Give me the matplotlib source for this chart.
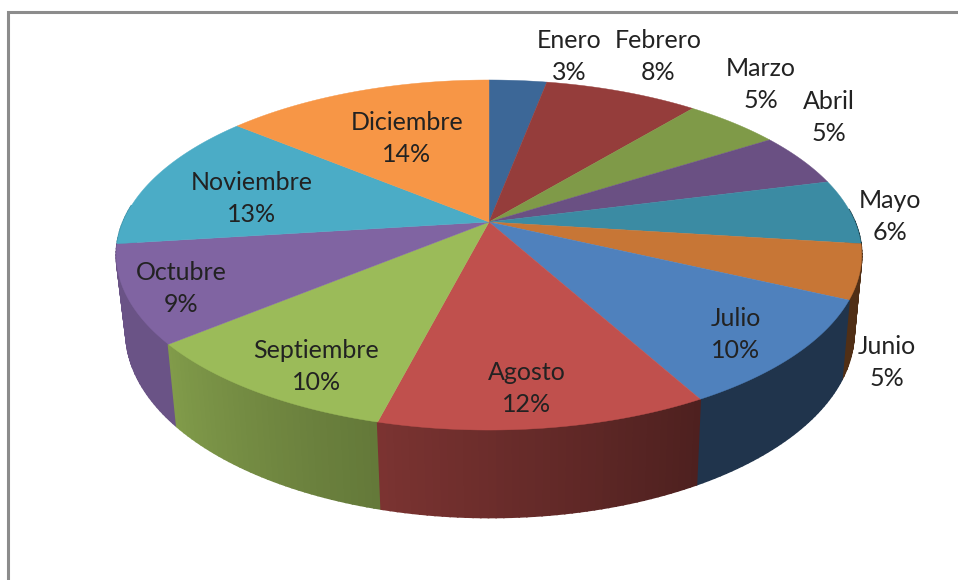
import numpy as np
import matplotlib
matplotlib.use("Agg")
import matplotlib.pyplot as plt
from matplotlib.colors import to_rgb

months = ["Enero", "Febrero", "Marzo", "Abril", "Mayo", "Junio", "Julio",
          "Agosto", "Septiembre", "Octubre", "Noviembre", "Diciembre"]
percent = [3, 8, 5, 5, 6, 5, 10, 12, 10, 9, 13, 14]
colors = ["#3c6797", "#953d3b", "#7f9a48", "#6a5083", "#3b8ba3", "#c77636",
          "#4f81bd", "#c0504d", "#9bbb59", "#8064a2", "#4bacc6", "#f79646"]
label_x = [569.5, 658.5, 761, 828.5, 890, 886.5, 736, 527, 316.5, 181, 251.5, 407]
label_y = [56.5, 56.5, 84.5, 117.5, 216.5, 362.5, 334.5, 388.5, 366.5, 288.5, 198.5, 138.5]
# side shading, clockwise degrees from the top
shade_angle = [90, 115, 151, 194, 230, 270]
shade_value = [0.40, 0.40, 0.40, 0.64, 0.83, 0.83]

plt.rcParams["font.family"] = ["Lato", "DejaVu Sans"]

# pie geometry in pixels
cx, cy = 489, 222
R, H, k = 366, 168.8, 0.1886


def top(deg):
    a = np.radians(deg)
    u, v = np.sin(a), np.cos(a)
    s = 1 / (1 + k * v)
    return cx + R * u * s, cy - H * v * s


def bottom(deg):
    x, y = top(deg)
    return cx + 1 + (x - cx) * 0.977, y + 75 + 0.06 * (y - cy)


fig = plt.figure(figsize=(9.58, 5.8), dpi=100)
ax = fig.add_axes([0, 0, 1, 1])
ax.set_xlim(0, 958)
ax.set_ylim(580, 0)
ax.axis("off")

# frame, only left and top show
ax.plot([8.5, 8.5, 958], [580, 12, 12], color="#8c8c8c", lw=2.2, solid_joinstyle="miter")

edges = np.concatenate([[0], np.cumsum(percent)]) * 3.6

# side wall strips, back to front so the front hides the rest
strips = []
for i in range(len(percent)):
    a = np.arange(edges[i], edges[i + 1], 1.0)
    for d in a:
        d2 = min(d + 1.0, edges[i + 1])
        if 85 < d < 275:
            strips.append((abs(d - 180), d, d2, i))
strips.sort(key=lambda t: -t[0])
for _, d, d2, i in strips:
    f = np.interp((d + d2) / 2, shade_angle, shade_value)
    c = np.array(to_rgb(colors[i])) * f
    xa, ya = top(d)
    xb, yb = top(d2)
    xc, yc = bottom(d2)
    xd, yd = bottom(d)
    ax.fill([xa, xb, xc, xd], [ya, yb, yc, yd], color=c, lw=1.2, zorder=2)

# top face
for i in range(len(percent)):
    a = np.linspace(edges[i], edges[i + 1], 60)
    x, y = top(a)
    ax.fill(np.r_[cx, x], np.r_[cy, y], color=colors[i], lw=0.3, zorder=3)

for name, p, x, y in zip(months, percent, label_x, label_y):
    ax.text(x, y, f"{name}\n{p}%", ha="center", va="center", fontsize=18,
            color="#222222", linespacing=1.47, zorder=4)

fig.savefig("out.png", dpi=100)
